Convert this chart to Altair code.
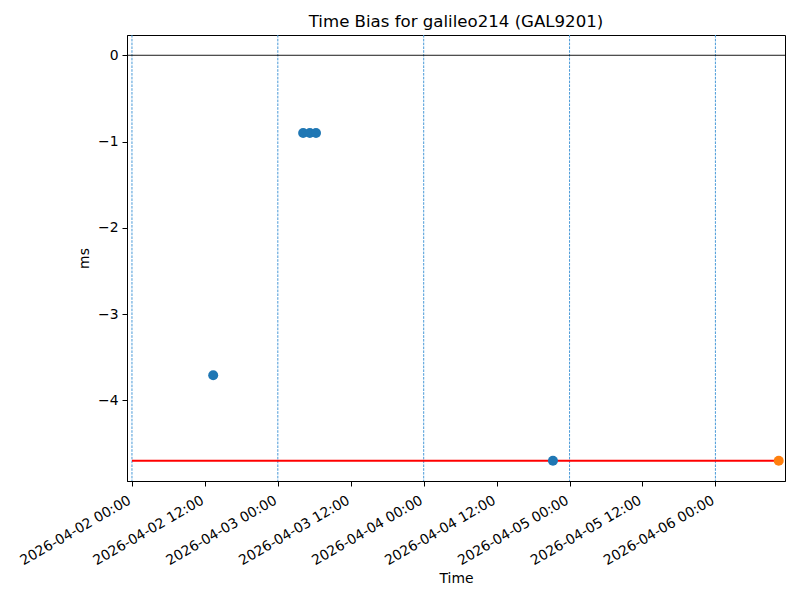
import altair as alt
import pandas as pd

# ---- data ----
title_text = "Time Bias for galileo214 (GAL9201)"
point_times = ["2026-04-02T13:22:00Z", "2026-04-03T04:10:00Z", "2026-04-03T05:16:00Z",
               "2026-04-03T06:17:00Z", "2026-04-04T21:16:00Z"]
point_bias = [-3.71, -0.9, -0.9, -0.9, -4.7]
last_time = ["2026-04-06T10:25:00Z"]
last_bias = [-4.7]
limit_start = ["2026-04-02T00:00:00Z"]
limit_end = ["2026-04-06T10:25:00Z"]
limit_value = [-4.7]
day_lines = ["2026-04-02T00:00:00Z", "2026-04-03T00:00:00Z", "2026-04-04T00:00:00Z",
             "2026-04-05T00:00:00Z", "2026-04-06T00:00:00Z"]
zero_value = [0]
tick_hours = [0, 12, 24, 36, 48, 60, 72, 84, 96]
y_ticks = [0, -1, -2, -3, -4]

FONT = "DejaVu Sans"

pts = pd.DataFrame({"t": point_times, "v": point_bias})
last = pd.DataFrame({"t": last_time, "v": last_bias})
lim = pd.DataFrame({"t": limit_start, "t2": limit_end, "v": limit_value})
days = pd.DataFrame({"t": day_lines})
zero = pd.DataFrame({"v": zero_value})

tick_vals = [alt.DateTime(year=2026, month=4, date=2 + h // 24, hours=h % 24, utc=True)
             for h in tick_hours]

x_scale = alt.Scale(type="utc", domain=[
    alt.DateTime(year=2026, month=4, date=1, hours=23, minutes=11, utc=True),
    alt.DateTime(year=2026, month=4, date=6, hours=11, minutes=27, utc=True)])
y_scale = alt.Scale(domain=[-4.935, 0.235], nice=False, zero=False)

x_axis = alt.Axis(values=tick_vals,
                  labelExpr="utcFormat(datum.value, '%Y-%m-%d %H:%M')",
                  labelAngle=-30, labelAlign="right", labelBaseline="top",
                  labelOffset=-6, labelPadding=7, tickSize=5, grid=False,
                  title="Time", titleY=90, titleBaseline="top",
                  labelFlush=False, labelOverlap=False)
y_axis = alt.Axis(values=y_ticks, tickSize=5, labelPadding=4, grid=False,
                  title="ms", titlePadding=6, format="d")

X = alt.X("t:T", scale=x_scale, axis=x_axis)
Y = alt.Y("v:Q", scale=y_scale, axis=y_axis)

vlines = alt.Chart(days).mark_rule(color="#4a9ad8", strokeWidth=1, strokeDash=[2.6, 1.2]
                                   ).encode(x=X)
zline = alt.Chart(zero).mark_rule(color="black", strokeWidth=0.9).encode(y=Y)
redline = alt.Chart(lim).mark_rule(color="red", strokeWidth=2).encode(
    x=X, x2="t2:T", y=Y)
blue = alt.Chart(pts).mark_circle(color="#1f77b4", size=100, opacity=1).encode(x=X, y=Y)
orange = alt.Chart(last).mark_circle(color="#ff7f0e", size=100, opacity=1).encode(x=X, y=Y)

chart = alt.layer(vlines, zline, redline, blue, orange).properties(
    width=658, height=446,
    background="white",
    title=alt.TitleParams(title_text, font=FONT, fontSize=16.6, fontWeight="normal",
                          anchor="middle", offset=4, color="black"),
    autosize=alt.AutoSizeParams(type="none"),
    padding={"left": 119, "top": 27, "right": 7, "bottom": 111},
).configure_view(stroke="black", strokeWidth=1).configure_axis(
    labelFont=FONT, titleFont=FONT, labelFontSize=13.9, titleFontSize=13.9,
    labelColor="black", titleColor="black", titleFontWeight="normal",
    domainColor="black", tickColor="black", domainWidth=1, tickWidth=1
)

chart.save("out.html", embed_options={"renderer": "svg", "actions": False})
